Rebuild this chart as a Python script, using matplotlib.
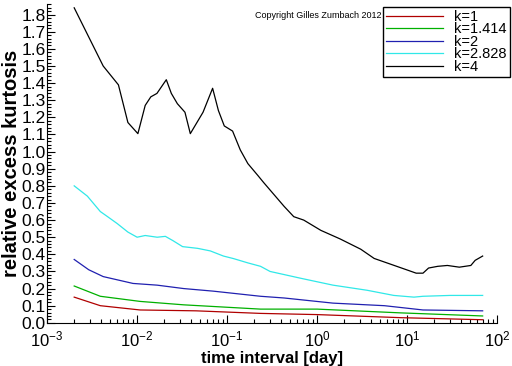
import numpy as np
import matplotlib.pyplot as plt
from matplotlib.ticker import MultipleLocator, LogLocator

plt.rcParams['font.family'] = ['Liberation Sans', 'DejaVu Sans']

# data (time interval in days)
x_k4 = [0.002, 0.0042, 0.0062, 0.0079, 0.0102, 0.0123, 0.0142, 0.0166, 0.0211,
        0.024, 0.028, 0.034, 0.039, 0.054, 0.069, 0.08, 0.093, 0.115, 0.14,
        0.17, 0.22, 0.254, 0.43, 0.55, 0.71, 1.1, 1.8, 3.05, 4.3, 7.1, 10.2,
        12.6, 15.0, 17.3, 21.9, 28.0, 38.0, 51.0, 57.0, 69.0]
y_k4 = [1.84, 1.50, 1.39, 1.17, 1.105, 1.27, 1.32, 1.34, 1.42,
        1.34, 1.28, 1.23, 1.105, 1.23, 1.37, 1.24, 1.15, 1.12, 1.01,
        0.93, 0.86, 0.82, 0.68, 0.62, 0.60, 0.54, 0.49, 0.43, 0.376, 0.336, 0.307,
        0.29, 0.29, 0.32, 0.33, 0.335, 0.325, 0.335, 0.365, 0.39]

x_k2828 = [0.002, 0.0028, 0.0039, 0.0047, 0.006, 0.0079, 0.010, 0.0123, 0.0167,
           0.0206, 0.025, 0.032, 0.047, 0.065, 0.091, 0.118, 0.17, 0.235, 0.30,
           0.66, 1.5, 3.6, 7.1, 11.9, 15.0, 30.0, 69.0]
y_k2828 = [0.80, 0.74, 0.65, 0.62, 0.58, 0.53, 0.50, 0.51, 0.50,
           0.505, 0.48, 0.445, 0.435, 0.42, 0.39, 0.375, 0.35, 0.33, 0.30,
           0.26, 0.22, 0.19, 0.16, 0.15, 0.155, 0.16, 0.16]

x_k2 = [0.002, 0.0029, 0.0042, 0.009, 0.0167, 0.033, 0.07, 0.235, 0.43, 1.5, 5.6, 15.0, 69.0]
y_k2 = [0.37, 0.31, 0.27, 0.23, 0.22, 0.20, 0.185, 0.155, 0.145, 0.115, 0.10, 0.075, 0.07]

x_k1414 = [0.002, 0.0039, 0.0108, 0.033, 0.235, 1.0, 8.5, 69.0]
y_k1414 = [0.215, 0.155, 0.125, 0.105, 0.08, 0.08, 0.058, 0.04]

x_k1 = [0.002, 0.0039, 0.0108, 0.045, 0.235, 1.0, 8.5, 69.0]
y_k1 = [0.15, 0.10, 0.075, 0.07, 0.055, 0.048, 0.03, 0.018]

series = [
    (x_k1, y_k1, 'k=1', '#b00000'),
    (x_k1414, y_k1414, 'k=1.414', '#00b000'),
    (x_k2, y_k2, 'k=2', '#2020b0'),
    (x_k2828, y_k2828, 'k=2.828', '#30e8e8'),
    (x_k4, y_k4, 'k=4', 'black'),
]

fig = plt.figure(figsize=(5.12, 3.66), dpi=100)
ax = fig.add_axes([0.092, 0.118, 0.879, 0.87])

lines = []
for xs, ys, lab, col in series:
    ln, = ax.plot(xs, ys, color=col, lw=0.9, label=lab)
    lines.append(ln)

ax.set_xscale('log')
ax.set_xlim(1e-3, 1e2)
ax.set_ylim(0, 1.86)
ax.yaxis.set_major_locator(MultipleLocator(0.1))
ax.yaxis.set_minor_locator(MultipleLocator(0.02))
ax.yaxis.set_major_formatter(plt.FuncFormatter(lambda v, p: '%.1f' % v))
ax.xaxis.set_minor_locator(LogLocator(base=10, subs=np.arange(2, 10), numticks=20))

for s in ['top', 'right']:
    ax.spines[s].set_visible(False)
ax.tick_params(which='both', direction='in', labelsize=12.5, width=0.8, pad=1)
ax.tick_params(which='major', length=6)
ax.tick_params(which='minor', length=3)
ax.tick_params(axis='x', pad=5, labelsize=12)

ax.set_xlabel('time interval [day]', fontsize=12, fontweight='bold')
ax.xaxis.set_label_coords(0.5, -0.09)
ax.set_ylabel('relative excess kurtosis', fontsize=14.5, fontweight='bold', labelpad=0)

fig.text(0.498, 0.958, 'Copyright Gilles Zumbach 2012', fontsize=6.5, va='center')

leg = fig.legend(handles=lines, loc='upper left', bbox_to_anchor=(0.748, 0.981),
                 fontsize=10.5, handlelength=3.9, handletextpad=0.8,
                 labelspacing=-0.1, borderpad=0.2, borderaxespad=0,
                 fancybox=False, framealpha=1, edgecolor='black')
leg.get_frame().set_linewidth(1.0)

fig.savefig('out.png', dpi=100)
